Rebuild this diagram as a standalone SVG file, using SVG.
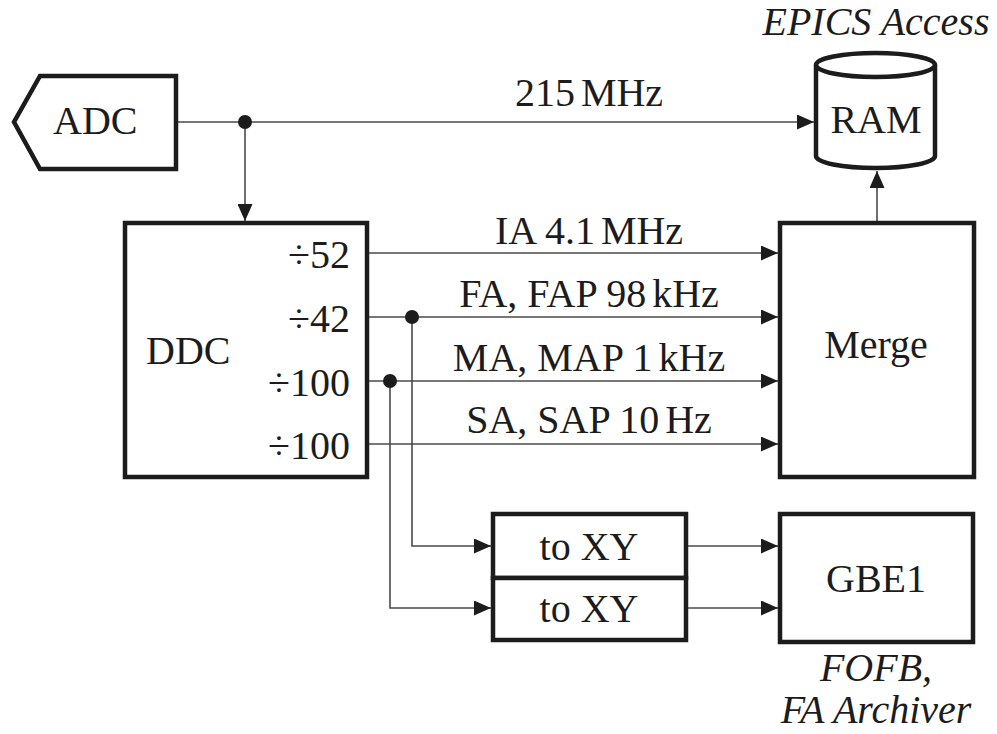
<svg xmlns="http://www.w3.org/2000/svg" width="997" height="734" viewBox="0 0 997 734">
<style>
.box{fill:#fff;stroke:#1c1c1c;stroke-width:4.5}
.ln{fill:none;stroke:#4a4a4a;stroke-width:1.6}
.t{font-size:40px;fill:#1c1c1c}
.i{font-style:italic}
.m{text-anchor:middle}
.e{text-anchor:end}
.dot{fill:#1c1c1c}
</style>
<defs>
<marker id="ah" viewBox="0 0 17 15" refX="17" refY="7.5" markerWidth="17" markerHeight="15" markerUnits="userSpaceOnUse" orient="auto">
<path d="M0,0 L17,7.5 L0,15 Z" fill="#1c1c1c"/>
</marker>
</defs>
<rect width="997" height="734" fill="#fff"/>
<g id="connectors">
<path class="ln" d="M176,122 H814" marker-end="url(#ah)"/>
<path class="ln" d="M245,122 V221" marker-end="url(#ah)"/>
<path class="ln" d="M877,221 V171" marker-end="url(#ah)"/>
<path class="ln" d="M367,253 H778" marker-end="url(#ah)"/>
<path class="ln" d="M367,317 H778" marker-end="url(#ah)"/>
<path class="ln" d="M367,381 H778" marker-end="url(#ah)"/>
<path class="ln" d="M367,444 H778" marker-end="url(#ah)"/>
<path class="ln" d="M412,317 V546 H491" marker-end="url(#ah)"/>
<path class="ln" d="M390,381 V608 H491" marker-end="url(#ah)"/>
<path class="ln" d="M686,546 H778" marker-end="url(#ah)"/>
<path class="ln" d="M686,608 H778" marker-end="url(#ah)"/>
<circle class="dot" cx="245" cy="122" r="7"/>
<circle class="dot" cx="412" cy="317" r="7"/>
<circle class="dot" cx="390" cy="381" r="7"/>
<text class="t m" font-family="'Liberation Serif', 'Times New Roman', serif" x="589" y="106">215<tspan dx="6">MHz</tspan></text>
<text class="t m" font-family="'Liberation Serif', 'Times New Roman', serif" x="589" y="244">IA 4.1<tspan dx="6">MHz</tspan></text>
<text class="t m" font-family="'Liberation Serif', 'Times New Roman', serif" x="589" y="307">FA, FAP 98<tspan dx="6">kHz</tspan></text>
<text class="t m" font-family="'Liberation Serif', 'Times New Roman', serif" x="589" y="371">MA, MAP 1<tspan dx="6">kHz</tspan></text>
<text class="t m" font-family="'Liberation Serif', 'Times New Roman', serif" x="589" y="433">SA, SAP 10<tspan dx="6">Hz</tspan></text>
</g>
<g id="adc">
<path class="box" d="M40,76 H176 V169 H40 L14,122 Z"/>
<text class="t" font-family="'Liberation Serif', 'Times New Roman', serif" x="53" y="134">ADC</text>
</g>
<g id="ram">
<path class="box" d="M816,65 V156 A59.5,12 0 0 0 935,156 V65"/>
<ellipse class="box" cx="875.5" cy="65" rx="59.5" ry="12"/>
<text class="t m" font-family="'Liberation Serif', 'Times New Roman', serif" x="876" y="133">RAM</text>
<text class="t i m" font-family="'Liberation Serif', 'Times New Roman', serif" x="876" y="35">EPICS Access</text>
</g>
<g id="ddc">
<rect class="box" x="125" y="223" width="242" height="254"/>
<text class="t" font-family="'Liberation Serif', 'Times New Roman', serif" x="146" y="364">DDC</text>
<text class="t e" font-family="'Liberation Serif', 'Times New Roman', serif" x="350" y="268">÷52</text>
<text class="t e" font-family="'Liberation Serif', 'Times New Roman', serif" x="350" y="332">÷42</text>
<text class="t e" font-family="'Liberation Serif', 'Times New Roman', serif" x="350" y="396">÷100</text>
<text class="t e" font-family="'Liberation Serif', 'Times New Roman', serif" x="350" y="459">÷100</text>
</g>
<g id="merge">
<rect class="box" x="780" y="223" width="194" height="254"/>
<text class="t m" font-family="'Liberation Serif', 'Times New Roman', serif" x="876" y="358">Merge</text>
</g>
<g id="toxy1">
<rect class="box" x="493" y="514" width="193" height="64"/>
<text class="t m" font-family="'Liberation Serif', 'Times New Roman', serif" x="589" y="560">to XY</text>
</g>
<g id="toxy2">
<rect class="box" x="493" y="578" width="193" height="62"/>
<text class="t m" font-family="'Liberation Serif', 'Times New Roman', serif" x="589" y="622">to XY</text>
</g>
<g id="gbe1">
<rect class="box" x="780" y="514" width="193" height="128"/>
<text class="t m" font-family="'Liberation Serif', 'Times New Roman', serif" x="876" y="592">GBE1</text>
<text class="t i m" font-family="'Liberation Serif', 'Times New Roman', serif" x="876" y="681">FOFB,</text>
<text class="t i m" font-family="'Liberation Serif', 'Times New Roman', serif" x="876" y="723">FA Archiver</text>
</g>
</svg>
